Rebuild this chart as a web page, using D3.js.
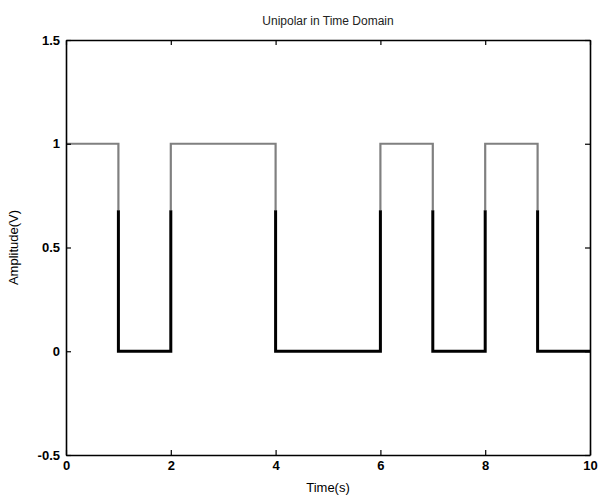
<!DOCTYPE html>
<html>
<head>
<meta charset="utf-8">
<script src="https://cdn.jsdelivr.net/npm/d3@7"></script>
<style>
  body { margin: 0; background: #fff; }
  text { font-family: "Liberation Sans", Arial, sans-serif; }
</style>
</head>
<body>
<div id="chart"></div>
<script>
// bit sequence, one bit per second
var bits = [1, 0, 1, 1, 0, 0, 1, 0, 1, 0];
var xTicks = [0, 2, 4, 6, 8, 10];
var yTicks = [-0.5, 0, 0.5, 1, 1.5];

var svgWidth = 600;
var svgHeight = 497;

var margin = { top: 40, right: 10, bottom: 42, left: 66 };
var width = svgWidth - margin.left - margin.right;
var height = svgHeight - margin.top - margin.bottom;

var svg = d3
  .select("#chart")
  .append("svg")
  .attr("width", svgWidth)
  .attr("height", svgHeight);

var chartGroup = svg
  .append("g")
  .attr("transform", `translate(${margin.left}, ${margin.top})`);

var x = d3.scaleLinear().domain([0, 10]).range([0, width]);
var y = d3.scaleLinear().domain([-0.5, 1.5]).range([height, 0]);

// step points: each bit holds from t to t+1
var points = bits.map((b, i) => ({ t: i, v: b }));
points.push({ t: bits.length, v: bits[bits.length - 1] });

var line = d3
  .line()
  .x((d) => x(d.t))
  .y((d) => y(d.v))
  .curve(d3.curveStepAfter);

// the scan shows the trace gray in its upper part and black below
var splitY = y(0.68);
var defs = svg.append("defs");
defs.append("clipPath").attr("id", "upper")
  .append("rect").attr("x", -5).attr("y", -5).attr("width", width + 10).attr("height", splitY + 5);
defs.append("clipPath").attr("id", "lower")
  .append("rect").attr("x", -5).attr("y", splitY).attr("width", width + 10).attr("height", height - splitY + 5);

chartGroup.append("path")
  .datum(points)
  .attr("d", line)
  .attr("fill", "none")
  .attr("stroke", "#808080")
  .attr("stroke-width", 2.2)
  .attr("clip-path", "url(#upper)");

chartGroup.append("path")
  .datum(points)
  .attr("d", line)
  .attr("fill", "none")
  .attr("stroke", "#000")
  .attr("stroke-width", 3)
  .attr("clip-path", "url(#lower)");

// axes, ticks pointing inward like matlab
var bottomAxis = d3.axisBottom(x).tickValues(xTicks).tickSizeInner(-5).tickSizeOuter(0).tickPadding(6).tickFormat(d3.format("d"));
var topAxis = d3.axisTop(x).tickValues(xTicks).tickSizeInner(-5).tickSizeOuter(0).tickFormat("");
var leftAxis = d3.axisLeft(y).tickValues(yTicks).tickSizeInner(-5).tickSizeOuter(0).tickPadding(6).tickFormat((d) => String(d));
var rightAxis = d3.axisRight(y).tickValues(yTicks).tickSizeInner(-5).tickSizeOuter(0).tickFormat("");

var axes = [
  chartGroup.append("g").attr("transform", `translate(0, ${height})`).call(bottomAxis),
  chartGroup.append("g").call(topAxis),
  chartGroup.append("g").call(leftAxis),
  chartGroup.append("g").attr("transform", `translate(${width}, 0)`).call(rightAxis),
];

axes.forEach(function (g) {
  g.select(".domain").attr("stroke", "#000").attr("stroke-width", 1.6);
  g.selectAll(".tick line").attr("stroke", "#000").attr("stroke-width", 1.2);
  g.selectAll(".tick text")
    .attr("fill", "#000")
    .style("font-size", "13px")
    .style("font-weight", "bold");
});

// title and axis labels
chartGroup.append("text")
  .attr("x", width / 2)
  .attr("y", -15)
  .attr("text-anchor", "middle")
  .style("font-size", "12px")
  .attr("fill", "#222")
  .text("Unipolar in Time Domain");

chartGroup.append("text")
  .attr("x", width / 2)
  .attr("y", height + 37)
  .attr("text-anchor", "middle")
  .style("font-size", "13px")
  .attr("fill", "#000")
  .text("Time(s)");

chartGroup.append("text")
  .attr("transform", "rotate(-90)")
  .attr("x", -height / 2)
  .attr("y", -48)
  .attr("text-anchor", "middle")
  .style("font-size", "13px")
  .attr("fill", "#000")
  .text("Amplitude(V)");
</script>
</body>
</html>
